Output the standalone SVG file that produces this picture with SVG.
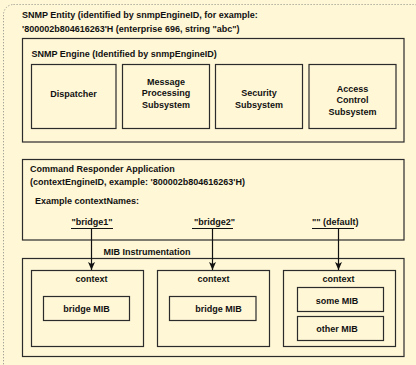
<svg xmlns="http://www.w3.org/2000/svg" width="416" height="365" viewBox="0 0 416 365">
<defs>
<style>
.bx{fill:none;stroke:#2b2b2b;stroke-width:1.2}
.t{font-family:"Liberation Sans",Arial,sans-serif;font-weight:bold;font-size:9px;fill:#111}
.c{text-anchor:middle}
.ln{stroke:#111;stroke-width:1.2;fill:none}
</style>
<marker id="ah" markerWidth="8" markerHeight="10" refX="8" refY="5" orient="auto" markerUnits="userSpaceOnUse">
<path d="M0,1.5 L8,5 L0,8.5 L2,5 Z" fill="#111"/>
</marker>
</defs>
<rect x="0" y="0" width="416" height="365" fill="#fff7d6"/>
<rect x="3.5" y="4.5" width="420" height="370" rx="10" fill="none" stroke="#9a9a90" stroke-width="1" stroke-dasharray="1.2,1.8"/>

<g id="entity">
<text class="t" x="22" y="18">SNMP Entity (identified by snmpEngineID, for example:</text>
<text class="t" x="22" y="32">'800002b804616263'H (enterprise 696, string "abc")</text>
</g>

<g id="engine">
<rect class="bx" x="22.5" y="38.5" width="381.5" height="103.5"/>
<text class="t" x="31.5" y="57">SNMP Engine (Identified by snmpEngineID)</text>
</g>
<g id="dispatcher">
<rect class="bx" x="31.5" y="64.5" width="84.5" height="64"/>
<text class="t c" x="73.5" y="97">Dispatcher</text>
</g>
<g id="mps">
<rect class="bx" x="122.5" y="64.5" width="87" height="64"/>
<text class="t c" x="166" y="84.5">Message</text>
<text class="t c" x="166" y="96">Processing</text>
<text class="t c" x="166" y="107.5">Subsystem</text>
</g>
<g id="security">
<rect class="bx" x="215.5" y="64.5" width="87" height="64"/>
<text class="t c" x="259" y="96">Security</text>
<text class="t c" x="259" y="107.5">Subsystem</text>
</g>
<g id="acs">
<rect class="bx" x="309" y="64.5" width="87" height="64"/>
<text class="t c" x="352.5" y="91.5">Access</text>
<text class="t c" x="352.5" y="103">Control</text>
<text class="t c" x="352.5" y="114.5">Subsystem</text>
</g>

<g id="cmdrsp">
<rect class="bx" x="22.5" y="159.5" width="381.5" height="80.5"/>
<text class="t" x="30" y="172">Command Responder Application</text>
<text class="t" x="30" y="184.5">(contextEngineID, example: '800002b804616263'H)</text>
<text class="t" x="35" y="204">Example contextNames:</text>
<text class="t c" x="92" y="225">"bridge1"</text>
<text class="t c" x="214.5" y="225">"bridge2"</text>
<text class="t" x="312" y="225">"" (default)</text>
</g>

<g id="mib">
<text class="t" x="103.5" y="255">MIB Instrumentation</text>
<rect class="bx" x="22.5" y="258.5" width="381.5" height="98"/>
</g>
<g id="ctx1">
<rect class="bx" x="31.5" y="270.5" width="112" height="76"/>
<text class="t c" x="91.5" y="282">context</text>
<rect class="bx" x="43.5" y="296.5" width="86" height="24"/>
<text class="t c" x="86.5" y="312">bridge MIB</text>
</g>
<g id="ctx2">
<rect class="bx" x="157.5" y="270.5" width="112" height="76"/>
<text class="t c" x="213.5" y="282">context</text>
<rect class="bx" x="169.5" y="296.5" width="86.5" height="24"/>
<text class="t c" x="218.5" y="312">bridge MIB</text>
</g>
<g id="ctx3">
<rect class="bx" x="283.5" y="270.5" width="112" height="76"/>
<text class="t c" x="338.5" y="282">context</text>
<rect class="bx" x="297.5" y="287.5" width="86" height="24"/>
<text class="t c" x="337" y="303.5">some MIB</text>
<rect class="bx" x="297.5" y="316.5" width="86" height="24"/>
<text class="t c" x="337" y="332">other MIB</text>
</g>

<g id="connectors">
<line class="ln" x1="71" y1="228.5" x2="113" y2="228.5"/>
<line class="ln" x1="192" y1="228.5" x2="233" y2="228.5"/>
<line class="ln" x1="312" y1="228.5" x2="354" y2="228.5"/>
<line class="ln" x1="91.5" y1="228.5" x2="91.5" y2="270" marker-end="url(#ah)"/>
<line class="ln" x1="212.5" y1="228.5" x2="212.5" y2="270" marker-end="url(#ah)"/>
<line class="ln" x1="338.5" y1="228.5" x2="338.5" y2="270" marker-end="url(#ah)"/>
</g>
</svg>
